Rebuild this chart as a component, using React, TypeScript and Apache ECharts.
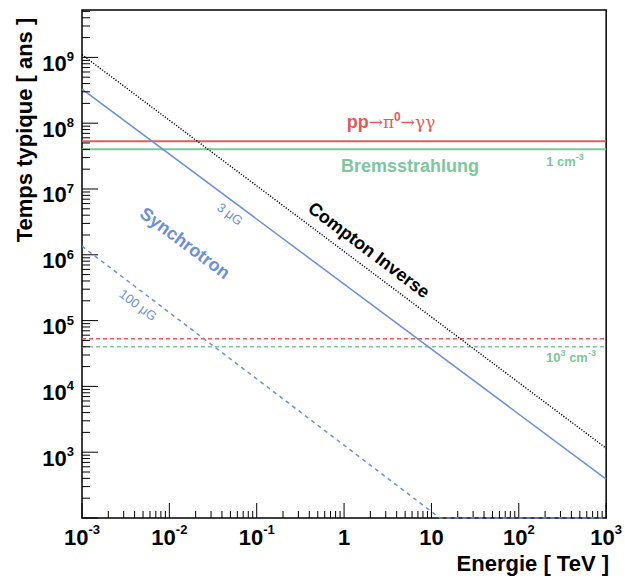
import React, { useEffect, useRef } from 'react';
import * as echarts from 'echarts';

// ---- axis ranges ----
const X_MIN = 1e-3;
const X_MAX = 1e3;
const Y_MIN = 1e2;
const Y_MAX = 5.25e9;

// ---- series data (energy in TeV, time in years) ----
const flatEnergy = [1e-3, 1e3];
const ppDense = [5.3e7, 5.3e7];
const bremDense = [4.0e7, 4.0e7];
const ppDilute = [5.3e4, 5.3e4];
const bremDilute = [4.0e4, 4.0e4];
const sync3Energy = [1e-3, 1e3];
const sync3Time = [3.3e8, 3.9e2];
const sync100Energy = [1e-3, 12.5, 1e3];
const sync100Time = [1.35e6, 1e2, 1e2];
const comptonEnergy = [1e-3, 1e3];
const comptonTime = [1.1e9, 1.15e3];

// ---- tick labels ----
const xTickExponents = [-3, -2, -1, 0, 1, 2, 3];
const xTickLabels = [['10', '-3'], ['10', '-2'], ['10', '-1'], ['1', ''], ['10', ''], ['10', '2'], ['10', '3']];
const yTickExponents = [3, 4, 5, 6, 7, 8, 9];
const yTickLabels = [['10', '3'], ['10', '4'], ['10', '5'], ['10', '6'], ['10', '7'], ['10', '8'], ['10', '9']];
const xDecadeStarts = [-3, -2, -1, 0, 1, 2];
const yDecadeStarts = [2, 3, 4, 5, 6, 7, 8, 9];
const minorMultipliers = [2, 3, 4, 5, 6, 7, 8, 9];

const RED = '#e05c5c';
const GREEN = '#7cc79e';
const BLUE = '#6d8fd6';
const FONT = '"Liberation Sans", Arial, Helvetica, sans-serif';

function pairs(xs: number[], ys: number[]) {
  return xs.map((x, i) => [x, ys[i]]);
}

function buildTicks(decades: number[], max: number, last: number | null) {
  const out: number[][] = [];
  decades.forEach((e) => {
    const base = Math.pow(10, e);
    out.push([base, 1]);
    minorMultipliers.forEach((m) => {
      if (m * base <= max * 1.0000001) out.push([m * base, 0]);
    });
  });
  if (last !== null) out.push([Math.pow(10, last), 1]);
  return out;
}

function labelFor(v: number, exps: number[], labels: string[][]) {
  const l = Math.log10(v);
  const e = Math.round(l);
  if (Math.abs(l - e) > 1e-6) return '';
  const i = exps.indexOf(e);
  if (i < 0) return '';
  const [b, s] = labels[i];
  return s ? `{b|${b}}{s|${s}}` : `{b|${b}}`;
}

export default function App() {
  const ref = useRef<HTMLDivElement>(null);
  useEffect(() => {
    if (!ref.current) return;
    const chart = echarts.init(ref.current, null, { renderer: 'svg' });

    const xTicks = buildTicks(xDecadeStarts, X_MAX, 3).map(([v, m]) => [v, Y_MIN, m]);
    const yTicks = buildTicks(yDecadeStarts, Y_MAX, null).map(([v, m]) => [X_MIN, v, m]);

    const lineSeries = (name: string, data: number[][], color: string, type: any, width: number, clip = true, z = 3) => ({
      name,
      type: 'line',
      data,
      showSymbol: false,
      symbol: 'none',
      clip,
      lineStyle: { color, width, type },
      z,
    });

    chart.setOption({
      animation: false,
      grid: {
        left: 82,
        top: 10,
        width: 527,
        height: 508,
        show: true,
        borderColor: '#000',
        borderWidth: 1.5,
        backgroundColor: 'transparent',
      },
      xAxis: {
        type: 'log',
        logBase: 10,
        min: X_MIN,
        max: X_MAX,
        splitNumber: 6,
        axisLine: { show: false },
        axisTick: { show: false },
        splitLine: { show: false },
        axisLabel: {
          margin: 4,
          showMinLabel: true,
          showMaxLabel: true,
          hideOverlap: false,
          formatter: (v: number) => labelFor(v, xTickExponents, xTickLabels),
          rich: {
            b: { fontSize: 22, lineHeight: 22, fontWeight: 'bold', fontFamily: FONT, color: '#000', padding: [8, 0, 0, 0] },
            s: { fontSize: 13, lineHeight: 13, fontWeight: 'bold', fontFamily: FONT, color: '#000', padding: [0, 0, 8, 0] },
          },
        },
      },
      yAxis: {
        type: 'log',
        logBase: 10,
        min: Y_MIN,
        max: Y_MAX,
        splitNumber: 8,
        axisLine: { show: false },
        axisTick: { show: false },
        splitLine: { show: false },
        axisLabel: {
          margin: 8,
          showMinLabel: true,
          showMaxLabel: true,
          hideOverlap: false,
          formatter: (v: number) => labelFor(v, yTickExponents, yTickLabels),
          rich: {
            b: { fontSize: 22, lineHeight: 22, fontWeight: 'bold', fontFamily: FONT, color: '#000', padding: [12, 0, 0, 0] },
            s: { fontSize: 13, lineHeight: 13, fontWeight: 'bold', fontFamily: FONT, color: '#000', padding: [0, 0, 1, 0] },
          },
        },
      },
      series: [
        lineSeries('pp 1', pairs(flatEnergy, ppDense), RED, 'solid', 2),
        lineSeries('brem 1', pairs(flatEnergy, bremDense), GREEN, 'solid', 2),
        lineSeries('pp 1000', pairs(flatEnergy, ppDilute), RED, [4, 3], 1.5),
        lineSeries('brem 1000', pairs(flatEnergy, bremDilute), GREEN, [4, 3], 1.5),
        lineSeries('sync 3', pairs(sync3Energy, sync3Time), BLUE, 'solid', 1.5),
        lineSeries('sync 100', pairs(sync100Energy, sync100Time), BLUE, [4, 4], 1.5, false, 20),
        lineSeries('compton', pairs(comptonEnergy, comptonTime), '#000', [1.2, 1.6], 1.4),
        {
          name: 'xticks',
          type: 'custom',
          data: xTicks,
          z: 5,
          silent: true,
          renderItem: (params: any, api: any) => {
            const p = api.coord([api.value(0), api.value(1)]);
            const len = api.value(2) === 1 ? 15 : 7;
            return {
              type: 'line',
              shape: { x1: p[0], y1: p[1], x2: p[0], y2: p[1] - len },
              style: { stroke: '#000', lineWidth: 1 },
            };
          },
        },
        {
          name: 'yticks',
          type: 'custom',
          data: yTicks,
          z: 5,
          silent: true,
          renderItem: (params: any, api: any) => {
            const p = api.coord([api.value(0), api.value(1)]);
            const len = api.value(2) === 1 ? 16 : 8;
            return {
              type: 'line',
              shape: { x1: p[0], y1: p[1], x2: p[0] + len, y2: p[1] },
              style: { stroke: '#000', lineWidth: 1 },
            };
          },
        },
      ],
      graphic: [
        {
          type: 'text', x: 391, y: 122,
          style: {
            text: '{a|pp}{b|→π}{c|0}{b|→γγ}', align: 'center', verticalAlign: 'middle',
            rich: {
              a: { fontSize: 18, fontWeight: 'bold', fontFamily: FONT, fill: RED, lineHeight: 18 },
              b: { fontSize: 17, fontFamily: '"DejaVu Serif", serif', fill: RED, lineHeight: 18 },
              c: { fontSize: 12, fontWeight: 'bold', fontFamily: FONT, fill: RED, lineHeight: 12, padding: [0, 0, 10, 0] },
            },
          },
        },
        {
          type: 'text', x: 410, y: 166,
          style: { text: 'Bremsstrahlung', align: 'center', verticalAlign: 'middle', fontSize: 18, fontWeight: 'bold', fontFamily: FONT, fill: GREEN },
        },
        {
          type: 'text', x: 565, y: 161,
          style: {
            text: '{a|1 cm}{s|-3}', align: 'center', verticalAlign: 'middle',
            rich: {
              a: { fontSize: 13, fontWeight: 'bold', fontFamily: FONT, fill: GREEN, lineHeight: 13 },
              s: { fontSize: 9, fontWeight: 'bold', fontFamily: FONT, fill: GREEN, lineHeight: 9, padding: [0, 0, 8, 0] },
            },
          },
        },
        {
          type: 'text', x: 571, y: 357,
          style: {
            text: '{a|10}{s|3}{a| cm}{s|-3}', align: 'center', verticalAlign: 'middle',
            rich: {
              a: { fontSize: 13, fontWeight: 'bold', fontFamily: FONT, fill: GREEN, lineHeight: 13 },
              s: { fontSize: 9, fontWeight: 'bold', fontFamily: FONT, fill: GREEN, lineHeight: 9, padding: [0, 0, 8, 0] },
            },
          },
        },
        {
          type: 'text', x: 185, y: 243, rotation: -0.64,
          style: { text: 'Synchrotron', align: 'center', verticalAlign: 'middle', fontSize: 18, fontWeight: 'bold', fontFamily: FONT, fill: BLUE },
        },
        {
          type: 'text', x: 230, y: 214, rotation: -0.64,
          style: { text: '3 μG', align: 'center', verticalAlign: 'middle', fontSize: 13, fontFamily: FONT, fill: BLUE },
        },
        {
          type: 'text', x: 138, y: 305, rotation: -0.64,
          style: { text: '100 μG', align: 'center', verticalAlign: 'middle', fontSize: 13, fontFamily: FONT, fill: BLUE },
        },
        {
          type: 'text', x: 369, y: 250, rotation: -0.645,
          style: { text: 'Compton Inverse', align: 'center', verticalAlign: 'middle', fontSize: 18, fontWeight: 'bold', fontFamily: FONT, fill: '#000' },
        },
        {
          type: 'text', x: 24, y: 130, rotation: Math.PI / 2,
          style: { text: 'Temps typique [ ans ]', align: 'center', verticalAlign: 'middle', fontSize: 22, fontWeight: 'bold', fontFamily: FONT, fill: '#000' },
        },
        {
          type: 'text', x: 609, y: 563,
          style: { text: 'Energie [ TeV ]', align: 'right', verticalAlign: 'middle', fontSize: 22, fontWeight: 'bold', fontFamily: FONT, fill: '#000' },
        },
      ],
    });
    return () => chart.dispose();
  }, []);

  return (
    <div
      ref={ref}
      style={{ position: 'absolute', left: 0, top: 0, width: 625, height: 578, background: '#fff' }}
    />
  );
}
